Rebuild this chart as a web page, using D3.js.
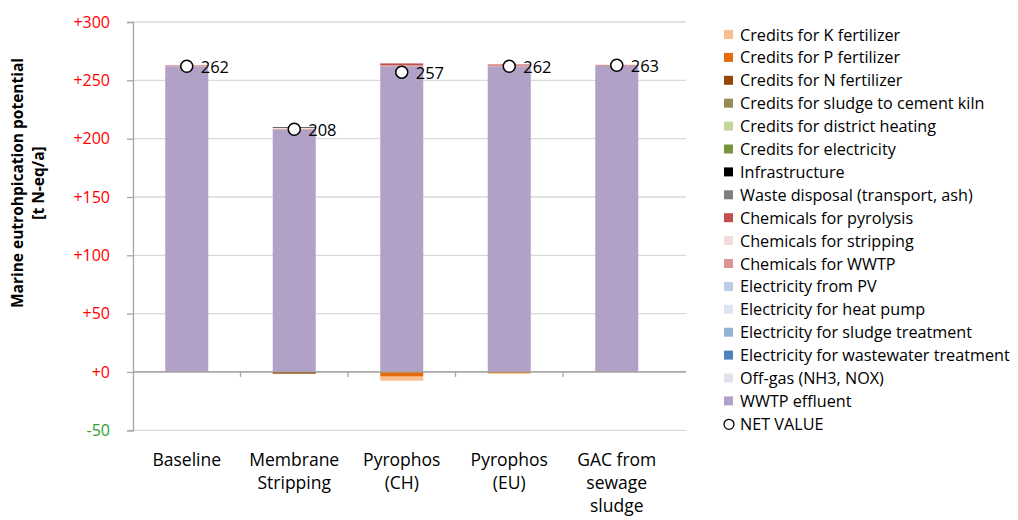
<!DOCTYPE html>
<html><head><meta charset="utf-8">
<script src="https://cdn.jsdelivr.net/npm/d3@7"></script>
<style>body{margin:0;background:#fff;} svg{display:block;font-family:"Open Sans",Lato,sans-serif;}</style>
</head><body><svg id="c" width="1018" height="520"></svg>
<script>
const categories = ["Baseline","Membrane Stripping","Pyrophos (CH)","Pyrophos (EU)","GAC from sewage sludge"];
const categoryLines = [["Baseline"],["Membrane","Stripping"],["Pyrophos","(CH)"],["Pyrophos","(EU)"],["GAC from","sewage","sludge"]];
// series in stacking order (bottom first); legend shows reversed
const seriesNames = ["WWTP effluent","Off-gas (NH3, NOX)","Electricity for wastewater treatment","Electricity for sludge treatment","Electricity for heat pump","Electricity from PV","Chemicals for WWTP","Chemicals for stripping","Chemicals for pyrolysis","Waste disposal (transport, ash)","Infrastructure","Credits for electricity","Credits for district heating","Credits for sludge to cement kiln","Credits for N fertilizer","Credits for P fertilizer","Credits for K fertilizer"];
const seriesColors = ["#b1a1c7","#e6e0ec","#4f81bd","#95b3d7","#dce6f2","#b9cde5","#d99694","#f2dcdb","#c0504d","#7f7f7f","#000000","#77933c","#c3d69b","#948a54","#974706","#e46c0a","#fabf8f"];
const wwtpEffluent   = [262.0, 207.8, 262.0, 262.0, 262.3];
const offGas         = [0, 0, 0, 0, 0];
const elecWastewater = [0, 0, 0, 0, 0];
const elecSludge     = [0, 0, 0, 0, 0];
const elecHeatPump   = [0, 0, 0, 0, 0];
const elecPV         = [0, 0, 0, 0, 0];
const chemWWTP       = [1.0, 0.6, 1.0, 0.8, 1.0];
const chemStripping  = [0, 0.8, 0, 0, 0];
const chemPyrolysis  = [0, 0, 1.5, 0.8, 0];
const wasteDisposal  = [0, 0, 0, 0, 0];
const infrastructure = [0, 0.5, 0, 0, 0];
const creditElec     = [0, 0, 0, 0, 0];
const creditHeating  = [0, 0, 0, 0, 0];
const creditCement   = [0, 0, 0, 0, 0];
const creditN        = [0, -1.5, 0, 0, 0];
const creditP        = [0, 0, -4.0, -1.0, 0];
const creditK        = [0, 0, -3.5, -0.6, 0];
const seriesValues = [wwtpEffluent,offGas,elecWastewater,elecSludge,elecHeatPump,elecPV,chemWWTP,chemStripping,chemPyrolysis,wasteDisposal,infrastructure,creditElec,creditHeating,creditCement,creditN,creditP,creditK];
const netValues = [262, 208, 257, 262, 263];
const yTicks = [300,250,200,150,100,50,0,-50];
const yTickLabels = ["+300","+250","+200","+150","+100","+50","+0","-50"];

const svg = d3.select("#c");
const mLeft = 133, mRight = 670.5, mTop = 22, mBottom = 430.3, gridRight = 686;
const y = d3.scaleLinear().domain([-50,300]).range([mBottom, mTop]);
const x = d3.scaleBand().domain(categories).range([mLeft, mRight]).paddingInner(0.6).paddingOuter(0.3);

const rows = categories.map((c,i)=>{const o={cat:c}; seriesNames.forEach((s,j)=>o[s]=seriesValues[j][i]); return o;});
const stack = d3.stack().keys(seriesNames).offset(d3.stackOffsetDiverging)(rows);

// gridlines
svg.append("g").selectAll("line").data(yTicks).join("line")
  .attr("x1", mLeft).attr("x2", gridRight).attr("y1", d=>y(d)).attr("y2", d=>y(d))
  .attr("stroke", d=> d===0 ? "#a6a6a6" : "#d9d9d9").attr("stroke-width", 1.3);

// bars
svg.append("g").selectAll("g").data(stack).join("g")
  .attr("fill", (d,i)=>seriesColors[i])
  .selectAll("rect").data(d=>d).join("rect")
  .attr("x", d=>x(d.data.cat)).attr("width", x.bandwidth())
  .attr("y", d=>y(Math.max(d[0],d[1]))).attr("height", d=>Math.abs(y(d[0])-y(d[1])));

// zero line on top
svg.append("line").attr("x1",mLeft).attr("x2",gridRight).attr("y1",y(0)).attr("y2",y(0)).attr("stroke","#a6a6a6").attr("stroke-width",1.3);
// category tick marks below zero
const step = x.step();
svg.append("g").selectAll("line").data(d3.range(1,categories.length)).join("line")
  .attr("x1", d=>mLeft+d*step).attr("x2", d=>mLeft+d*step).attr("y1", y(0)).attr("y2", y(0)+5)
  .attr("stroke","#a6a6a6").attr("stroke-width",1.3);

// y axis
const yAxis = d3.axisLeft(y).tickValues(yTicks).tickSize(6).tickPadding(17).tickFormat((d,i)=>yTickLabels[i]);
const ya = svg.append("g").attr("transform",`translate(${mLeft},0)`).call(yAxis);
ya.select(".domain").attr("stroke","#a6a6a6").attr("stroke-width",1.3);
ya.selectAll(".tick line").attr("stroke","#a6a6a6").attr("stroke-width",1.3);
ya.selectAll(".tick text").attr("font-size",16).attr("font-family","'Open Sans', sans-serif")
  .attr("fill", d=> d<0 ? "#2ca02c" : "#ff0000");

// y title
const yt = svg.append("text").attr("transform","translate(23,183) rotate(-90)")
  .attr("text-anchor","middle").attr("font-size",15.5).attr("font-weight","bold").attr("fill","#000");
yt.append("tspan").attr("x",0).attr("dy",0).text("Marine eutrohpication potential");
yt.append("tspan").attr("x",0).attr("dy",21).text("[t N-eq/a]");

// x labels
categories.forEach((c,i)=>{
  const t = svg.append("text").attr("text-anchor","middle").attr("font-size",17.5).attr("fill","#000")
    .attr("x", x(c)+x.bandwidth()/2).attr("y", 466);
  categoryLines[i].forEach((l,k)=>t.append("tspan").attr("x", x(c)+x.bandwidth()/2).attr("dy", k===0?0:23).text(l));
});

// net markers
const net = svg.append("g");
net.selectAll("circle").data(netValues).join("circle")
  .attr("cx",(d,i)=>x(categories[i])+x.bandwidth()/2).attr("cy",d=>y(d)).attr("r",6)
  .attr("fill","#fff").attr("stroke","#000").attr("stroke-width",1.5);
net.selectAll("text").data(netValues).join("text")
  .attr("x",(d,i)=>x(categories[i])+x.bandwidth()/2+14).attr("y",d=>y(d)+7)
  .attr("font-size",16.5).attr("fill","#000").text(d=>d);

// legend
const legendNames = seriesNames.slice().reverse();
const legendColors = seriesColors.slice().reverse();
const lg = svg.append("g");
const ly0 = 35, ldy = 22.9;
legendNames.forEach((n,i)=>{
  lg.append("rect").attr("x",724).attr("y",ly0+i*ldy-5).attr("width",9).attr("height",9).attr("fill",legendColors[i]);
  lg.append("text").attr("x",740).attr("y",ly0+i*ldy+5.5).attr("font-size",16.2).attr("fill","#000").text(n);
});
const ni = legendNames.length;
lg.append("circle").attr("cx",729).attr("cy",ly0+ni*ldy).attr("r",5).attr("fill","#fff").attr("stroke","#000").attr("stroke-width",1.3);
lg.append("text").attr("x",740).attr("y",ly0+ni*ldy+5.5).attr("font-size",16.2).attr("fill","#000").text("NET VALUE");
</script></body></html>
